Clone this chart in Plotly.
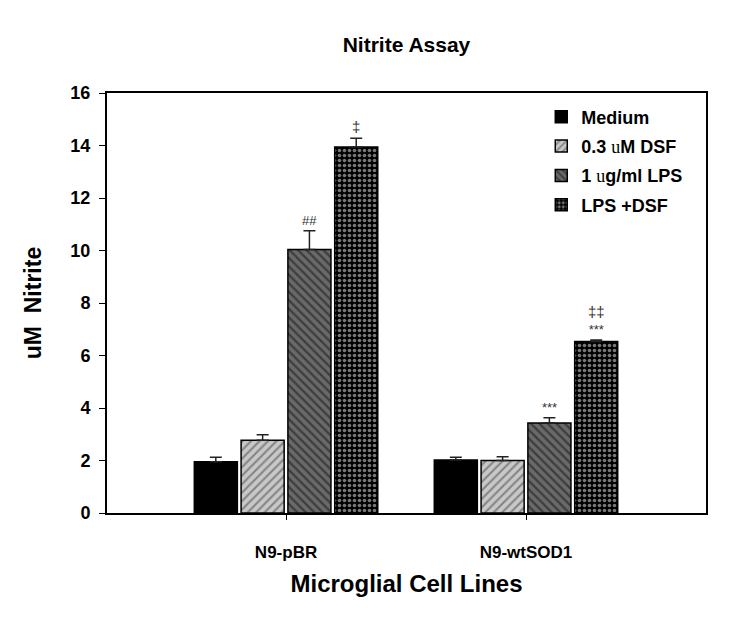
import plotly.graph_objects as go

categories = ["N9-pBR", "N9-wtSOD1"]
series_names = ["Medium",
                "0.3 <span style='font-family:Liberation Serif;font-weight:normal'>u</span>M DSF",
                "1 <span style='font-family:Liberation Serif;font-weight:normal'>u</span>g/ml LPS",
                "LPS +DSF"]
values = [
    [1.95, 2.02],   # Medium
    [2.77, 2.00],   # 0.3 uM DSF
    [10.04, 3.43],  # 1 ug/ml LPS
    [13.94, 6.53],  # LPS + DSF
]
errors = [
    [0.17, 0.10],
    [0.21, 0.14],
    [0.71, 0.20],
    [0.34, 0.06],
]
# significance marks: (series index, category index, label)
sig_marks = [
    (2, 0, "##"),
    (3, 0, "<span style='font-size:15px'>‡</span>"),
    (2, 1, "***"),
    (3, 1, "<span style='font-size:15px'>‡‡</span><br>***"),
]
y_ticks = [0, 2, 4, 6, 8, 10, 12, 14, 16]

FONT = "Liberation Sans, Arial, sans-serif"

styles = [
    dict(color="black", pattern=dict(shape="")),
    dict(color="#c8c8c8", pattern=dict(shape="/", bgcolor="#c8c8c8", fgcolor="#404040", size=6, solidity=0.35)),
    dict(color="#6a6a6a", pattern=dict(shape="\\", bgcolor="#6a6a6a", fgcolor="#111111", size=6, solidity=0.4)),
    dict(color="black", pattern=dict(shape=".", bgcolor="black", fgcolor="#f0f0f0", size=5, solidity=0.4)),
]

x_idx = list(range(len(categories)))
fig = go.Figure()
for i, name in enumerate(series_names):
    st = styles[i]
    fig.add_trace(go.Bar(
        x=x_idx, y=values[i], name=name, legendgroup=f"g{i}",
        marker=dict(color=st["color"], pattern=st["pattern"],
                    line=dict(color="black", width=1.5)),
        error_y=dict(type="data", symmetric=False, array=errors[i],
                     arrayminus=[0] * len(errors[i]),
                     color="#222222", thickness=1.5, width=6),
    ))

bargap = 0.22
n = len(series_names)
slot = (1 - bargap) / n
annotations = []
for si, ci, label in sig_marks:
    xpos = ci - (1 - bargap) / 2 + slot * (si + 0.5)
    annotations.append(dict(
        x=xpos, y=values[si][ci] + errors[si][ci], xref="x", yref="y",
        text=label, showarrow=False, yanchor="bottom", yshift=1,
        font=dict(family=FONT, size=13, color="#333333"),
    ))

W, H = 736, 611
fig.update_layout(
    width=W, height=H,
    margin=dict(l=99, r=38, t=85, b=106),
    paper_bgcolor="white", plot_bgcolor="white",
    barmode="group", bargap=bargap, bargroupgap=0.08,
    title=dict(text="<b>Nitrite Assay</b>", x=(99 + 698) / 2 / W, xanchor="center",
               y=1 - 37 / H, yanchor="middle",
               font=dict(family=FONT, size=21, color="black")),
    font=dict(family=FONT, color="black"),
    legend=dict(x=0.725, y=0.987, xanchor="left", yanchor="top",
                bgcolor="rgba(0,0,0,0)", tracegroupgap=3,
                font=dict(family=FONT, size=18, color="black", weight="bold")),
    annotations=annotations,
    showlegend=True,
)
fig.update_xaxes(
    range=[-0.746, 1.75], tickvals=x_idx, ticktext=[f"<b>{c}</b>" for c in categories],
    showline=True, linecolor="black", linewidth=2, mirror=True,
    ticks="outside", ticklen=5, tickwidth=1, tickcolor="black",
    ticklabelstandoff=18,
    tickfont=dict(family=FONT, size=17, color="black"),
    title=dict(text="<b>Microglial Cell Lines</b>", standoff=14,
               font=dict(family=FONT, size=24, color="black")),
    showgrid=False, zeroline=False,
)
fig.update_yaxes(
    range=[0, 16], tickvals=y_ticks, ticktext=[f"<b>{t}</b>" for t in y_ticks],
    showline=True, linecolor="black", linewidth=2, mirror=True,
    ticks="outside", ticklen=6, tickwidth=1, tickcolor="black",
    ticklabelstandoff=5,
    tickfont=dict(family=FONT, size=18, color="black"),
    title=dict(text="<b>uM  Nitrite</b>", standoff=22,
               font=dict(family=FONT, size=23, color="black")),
    showgrid=False, zeroline=False,
)

fig.write_html("out.html")
